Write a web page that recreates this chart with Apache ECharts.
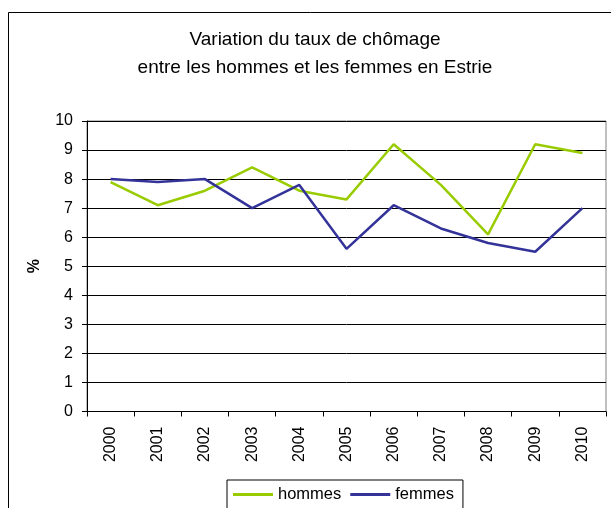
<!DOCTYPE html>
<html>
<head>
<meta charset="utf-8">
<script src="https://cdn.jsdelivr.net/npm/echarts@6/dist/echarts.min.js"></script>
<style>html,body{margin:0;padding:0;background:#fff;}#c{width:611px;height:508px;}</style>
</head>
<body>
<div id="c"></div>
<script>
const years = ['2000','2001','2002','2003','2004','2005','2006','2007','2008','2009','2010'];
const hommes = [7.9, 7.1, 7.6, 8.4, 7.6, 7.3, 9.2, 7.8, 6.1, 9.2, 8.9];
const femmes = [8.0, 7.9, 8.0, 7.0, 7.8, 5.6, 7.1, 6.3, 5.8, 5.5, 7.0];
const titleLines = ['Variation du taux de chômage', 'entre les hommes et les femmes en Estrie'];
const FONT = 'Liberation Sans, Arial, sans-serif';

const chart = echarts.init(document.getElementById('c'), null, {renderer: 'canvas'});
chart.setOption({
  backgroundColor: '#fff',
  animation: false,
  graphic: [{
    type: 'rect', z: -1, silent: true,
    shape: {x: 8.5, y: 12.5, width: 700, height: 600},
    style: {fill: 'none', stroke: '#000', lineWidth: 1}
  }],
  title: {
    text: titleLines.join('\n'),
    left: 315, top: 26, textAlign: 'center', padding: 0,
    textStyle: {fontFamily: FONT, fontSize: 19, fontWeight: 'normal', color: '#000', lineHeight: 28}
  },
  legend: {
    data: ['hommes', 'femmes'],
    left: 227, top: 480,
    padding: [6, 9, 20, 6],
    borderColor: '#000', borderWidth: 1, backgroundColor: '#fff',
    icon: 'rect', itemWidth: 40, itemHeight: 3, itemGap: 9,
    textStyle: {fontFamily: FONT, fontSize: 16.5, color: '#000'}
  },
  grid: {
    left: 87, right: 5, top: 121, bottom: 96.5,
    show: true, borderColor: '#808080', borderWidth: 1, containLabel: false
  },
  xAxis: {
    type: 'category', data: years, boundaryGap: true,
    axisLine: {lineStyle: {color: '#000', width: 1}},
    axisTick: {show: true, length: 5, lineStyle: {color: '#000'}},
    axisLabel: {rotate: 90, margin: 15, fontFamily: FONT, fontSize: 16, color: '#000'},
    splitLine: {show: false}
  },
  yAxis: {
    type: 'value', min: 0, max: 10, interval: 1,
    name: '%', nameLocation: 'middle', nameGap: 44, nameRotate: 90,
    nameTextStyle: {fontFamily: FONT, fontSize: 16, fontWeight: 'bold', color: '#000'},
    axisLine: {show: true, lineStyle: {color: '#000', width: 1}},
    axisTick: {show: true, length: 5, lineStyle: {color: '#000'}},
    axisLabel: {margin: 14, fontFamily: FONT, fontSize: 16, color: '#000'},
    splitLine: {show: true, lineStyle: {color: '#000', width: 1}}
  },
  series: [
    {name: 'hommes', type: 'line', data: hommes, symbol: 'none',
     lineStyle: {color: '#99cc00', width: 2.5}, itemStyle: {color: '#99cc00'}},
    {name: 'femmes', type: 'line', data: femmes, symbol: 'none',
     lineStyle: {color: '#333399', width: 2.5}, itemStyle: {color: '#333399'}}
  ]
});
</script>
</body>
</html>
